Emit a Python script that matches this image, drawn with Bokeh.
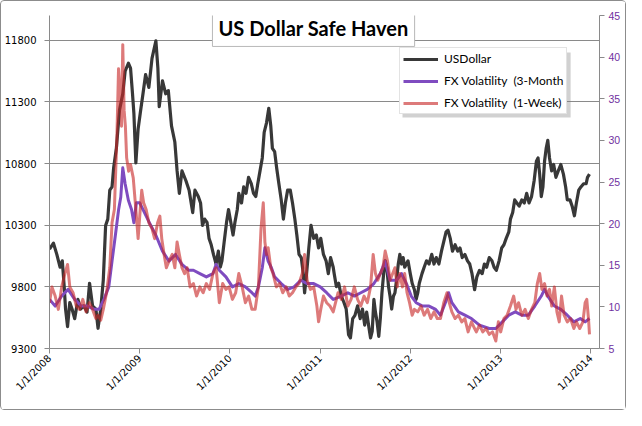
import math
from bokeh.plotting import figure
from bokeh.models import (Range1d, LinearAxis, FixedTicker, Legend, LegendItem,
                          Label, BoxAnnotation)
from bokeh.embed import file_html
from bokeh.resources import INLINE

# ---------------- data (years after 1/1/2008, values) ----------------
BASE_YEAR = 2008
x_ticks = [2008, 2009, 2010, 2011, 2012, 2013, 2014]
x_tick_labels = ["1/1/2008", "1/1/2009", "1/1/2010", "1/1/2011",
                 "1/1/2012", "1/1/2013", "1/1/2014"]
usd_ticks = [9300, 9800, 10300, 10800, 11300, 11800]
vol_ticks = [5, 10, 15, 20, 25, 30, 35, 40, 45]

usd_t = [0.000, 0.044, 0.081, 0.117, 0.142, 0.163, 0.178, 0.200, 0.225, 0.250,
         0.279, 0.315, 0.344, 0.379, 0.416, 0.444, 0.477, 0.514, 0.538, 0.568,
         0.596, 0.622, 0.646, 0.668, 0.693, 0.711, 0.741, 0.776, 0.812, 0.838,
         0.874, 0.898, 0.920, 0.935, 0.957, 0.982, 1.006, 1.036, 1.065, 1.101,
         1.136, 1.179, 1.201, 1.216, 1.252, 1.288, 1.317, 1.352, 1.389, 1.414,
         1.439, 1.468, 1.511, 1.547, 1.587, 1.612, 1.649, 1.674, 1.695, 1.720,
         1.746, 1.768, 1.792, 1.817, 1.846, 1.871, 1.893, 1.911, 1.936, 1.962,
         1.984, 2.009, 2.034, 2.055, 2.081, 2.098, 2.128, 2.152, 2.178, 2.206,
         2.236, 2.261, 2.286, 2.308, 2.333, 2.358, 2.379, 2.405, 2.430, 2.452,
         2.470, 2.495, 2.517, 2.542, 2.568, 2.592, 2.614, 2.639, 2.668, 2.693,
         2.719, 2.741, 2.765, 2.790, 2.812, 2.827, 2.849, 2.874, 2.898, 2.928,
         2.957, 2.982, 3.006, 3.036, 3.065, 3.090, 3.115, 3.144, 3.155, 3.179,
         3.205, 3.234, 3.263, 3.288, 3.314, 3.335, 3.360, 3.385, 3.414, 3.443,
         3.468, 3.493, 3.515, 3.541, 3.558, 3.576, 3.595, 3.612, 3.630, 3.649,
         3.666, 3.684, 3.703, 3.720, 3.738, 3.757, 3.774, 3.792, 3.811, 3.828,
         3.846, 3.865, 3.882, 3.901, 3.919, 3.936, 3.955, 3.973, 3.998, 4.019,
         4.044, 4.063, 4.081, 4.098, 4.128, 4.152, 4.178, 4.206, 4.236, 4.261,
         4.286, 4.315, 4.344, 4.369, 4.395, 4.416, 4.441, 4.466, 4.495, 4.524,
         4.549, 4.574, 4.603, 4.632, 4.657, 4.682, 4.711, 4.736, 4.765, 4.795,
         4.819, 4.844, 4.873, 4.903, 4.927, 4.952, 4.982, 5.011, 5.036, 5.061,
         5.090, 5.108, 5.133, 5.155, 5.179, 5.205, 5.234, 5.262, 5.288, 5.314,
         5.342, 5.371, 5.396, 5.414, 5.432, 5.450, 5.468, 5.486, 5.504, 5.522,
         5.541, 5.565, 5.587, 5.612, 5.638, 5.666, 5.695, 5.720, 5.738, 5.768,
         5.792, 5.817, 5.839, 5.865, 5.889, 5.919, 5.947, 5.962, 5.984]
usd_v = [10105, 10154, 10063, 9959, 10011, 9802, 9620, 9477, 9673, 9620,
         9542, 9698, 9620, 9646, 9595, 9829, 9646, 9620, 9464, 9620,
         9855, 10298, 10349, 10584, 10610, 10766, 10923, 11235, 11365, 11548,
         11613, 11573, 11365, 11209, 10805, 11079, 11209, 11365, 11521, 11417,
         11652, 11795, 11573, 11261, 11470, 11365, 11391, 11105, 10974, 10740,
         10558, 10740, 10662, 10584, 10402, 10584, 10532, 10480, 10298, 10349,
         10323, 10193, 10141, 10063, 9985, 10089, 9959, 10011, 10167, 10323,
         10427, 10323, 10220, 10323, 10427, 10558, 10480, 10610, 10558, 10688,
         10636, 10558, 10532, 10636, 10740, 10845, 11052, 11130, 11248, 11105,
         10923, 10896, 10766, 10636, 10505, 10349, 10480, 10584, 10584, 10480,
         10349, 10220, 10063, 10037, 9907, 9751, 9907, 10115, 10298, 10193,
         10220, 10115, 10193, 10063, 10011, 9907, 10037, 9959, 9907, 9802,
         9829, 9724, 9673, 9620, 9412, 9386, 9542, 9568, 9646, 9542,
         9620, 9490, 9595, 9464, 9386, 9438, 9698, 9595, 9516, 9399,
         9542, 9751, 9907, 10011, 9959, 9802, 9724, 9620, 9724, 9751,
         9855, 9985, 10063, 9985, 10037, 9959, 9985, 10011, 9907, 9829,
         9777, 9698, 9751, 9829, 9907, 9959, 10011, 9985, 10063, 9985,
         10037, 9985, 10089, 10167, 10245, 10259, 10193, 10089, 10141, 10089,
         10115, 10037, 10063, 10011, 9985, 9907, 9777, 9881, 9933, 9907,
         9985, 9959, 10037, 10011, 9959, 9933, 10011, 10115, 10141, 10193,
         10245, 10349, 10402, 10505, 10480, 10454, 10505, 10480, 10558, 10480,
         10532, 10662, 10818, 10845, 10714, 10532, 10610, 10818, 10923, 10988,
         10845, 10740, 10792, 10688, 10740, 10792, 10714, 10610, 10505, 10505,
         10454, 10376, 10480, 10584, 10610, 10636, 10636, 10688, 10714]

v3m_t = [0.000, 0.063, 0.135, 0.206, 0.279, 0.351, 0.423, 0.495, 0.549, 0.603,
         0.657, 0.693, 0.730, 0.766, 0.790, 0.812, 0.838, 0.874, 0.909, 0.935,
         0.963, 1.000, 1.108, 1.179, 1.252, 1.324, 1.396, 1.468, 1.541, 1.595,
         1.666, 1.738, 1.811, 1.846, 1.882, 1.955, 2.027, 2.098, 2.171, 2.243,
         2.279, 2.315, 2.358, 2.387, 2.423, 2.459, 2.495, 2.568, 2.639, 2.711,
         2.784, 2.855, 2.928, 3.000, 3.071, 3.144, 3.234, 3.306, 3.378, 3.450,
         3.522, 3.595, 3.666, 3.720, 3.774, 3.846, 3.901, 3.955, 4.009, 4.063,
         4.135, 4.206, 4.279, 4.333, 4.387, 4.423, 4.459, 4.531, 4.603, 4.676,
         4.765, 4.873, 4.946, 5.018, 5.090, 5.162, 5.234, 5.306, 5.378, 5.450,
         5.486, 5.522, 5.595, 5.666, 5.738, 5.811, 5.882, 5.936, 5.984]
v3m_v = [10.9, 10.1, 11.3, 12.1, 10.9, 10.1, 10.1, 9.7, 9.7, 10.9,
         12.4, 15.5, 18.6, 21.7, 23.2, 26.7, 24.8, 22.8, 21.7, 20.1,
         22.5, 22.5, 20.1, 18.6, 16.7, 15.5, 16.3, 15.1, 14.4, 14.4,
         14.0, 13.6, 14.0, 15.1, 14.4, 13.6, 12.4, 12.8, 12.4, 11.7,
         11.3, 12.4, 14.7, 17.1, 15.5, 14.7, 13.6, 12.8, 12.1, 12.4,
         13.2, 12.8, 12.8, 12.4, 11.7, 10.9, 11.3, 11.7, 11.3, 11.7,
         12.1, 12.8, 14.0, 15.5, 13.2, 13.2, 14.0, 12.8, 11.3, 10.5,
         10.1, 10.1, 9.7, 9.0, 10.5, 11.7, 10.5, 9.4, 9.0, 8.6,
         7.8, 7.4, 7.4, 8.2, 9.0, 9.4, 9.0, 9.0, 10.1, 11.3,
         12.1, 11.3, 10.1, 9.7, 9.0, 8.2, 8.6, 8.2, 8.6]

v1w_t = [0.000, 0.027, 0.063, 0.098, 0.135, 0.171, 0.200, 0.225, 0.261, 0.297,
         0.333, 0.369, 0.405, 0.441, 0.477, 0.514, 0.538, 0.568, 0.596, 0.632,
         0.668, 0.693, 0.719, 0.747, 0.765, 0.784, 0.798, 0.812, 0.827, 0.841,
         0.855, 0.877, 0.898, 0.928, 0.957, 0.982, 1.000, 1.022, 1.043, 1.071,
         1.101, 1.136, 1.165, 1.198, 1.223, 1.244, 1.270, 1.295, 1.324, 1.360,
         1.389, 1.414, 1.439, 1.468, 1.497, 1.525, 1.558, 1.595, 1.630, 1.666,
         1.703, 1.738, 1.774, 1.811, 1.846, 1.882, 1.919, 1.955, 1.990, 2.027,
         2.063, 2.098, 2.135, 2.171, 2.207, 2.243, 2.279, 2.315, 2.344, 2.369,
         2.387, 2.405, 2.423, 2.452, 2.477, 2.514, 2.549, 2.585, 2.622, 2.657,
         2.693, 2.730, 2.765, 2.801, 2.827, 2.855, 2.892, 2.928, 2.963, 2.982,
         3.006, 3.036, 3.071, 3.108, 3.144, 3.198, 3.234, 3.270, 3.306, 3.342,
         3.378, 3.414, 3.450, 3.486, 3.522, 3.558, 3.587, 3.612, 3.638, 3.666,
         3.695, 3.720, 3.746, 3.774, 3.803, 3.828, 3.854, 3.882, 3.911, 3.936,
         3.962, 3.990, 4.019, 4.044, 4.081, 4.117, 4.152, 4.189, 4.225, 4.261,
         4.297, 4.333, 4.369, 4.405, 4.430, 4.459, 4.495, 4.531, 4.568, 4.603,
         4.639, 4.676, 4.711, 4.730, 4.765, 4.801, 4.838, 4.873, 4.909, 4.946,
         4.974, 5.000, 5.036, 5.071, 5.108, 5.144, 5.169, 5.198, 5.234, 5.270,
         5.306, 5.342, 5.378, 5.406, 5.432, 5.457, 5.486, 5.514, 5.541, 5.565,
         5.595, 5.623, 5.649, 5.674, 5.703, 5.738, 5.774, 5.811, 5.839, 5.876,
         5.911, 5.936, 5.954, 5.973, 5.984]
v1w_v = [10.5, 12.4, 11.3, 9.7, 12.4, 14.0, 15.1, 12.4, 11.7, 10.1,
         9.7, 10.9, 9.4, 10.5, 9.7, 8.6, 9.0, 8.4, 9.7, 11.7,
         14.7, 20.1, 21.7, 30.5, 38.6, 35.6, 31.7, 41.5, 33.6, 31.7,
         27.9, 26.3, 27.1, 25.5, 21.7, 18.2, 20.9, 24.0, 22.5, 21.7,
         20.1, 19.4, 18.2, 20.1, 20.9, 18.2, 16.3, 14.7, 15.5, 16.3,
         14.7, 17.8, 16.3, 14.7, 14.0, 14.7, 12.4, 12.8, 11.3, 12.4,
         11.7, 12.8, 12.1, 14.0, 14.7, 10.5, 12.8, 12.1, 12.4, 10.9,
         11.7, 14.0, 12.4, 10.5, 11.3, 9.7, 9.7, 12.4, 19.4, 22.5,
         17.8, 16.3, 17.1, 14.7, 14.0, 12.4, 12.8, 11.7, 12.4, 11.3,
         11.7, 12.4, 12.8, 14.0, 16.3, 13.2, 12.1, 12.4, 10.1, 8.2,
         9.7, 11.3, 10.5, 10.1, 9.4, 11.7, 10.9, 12.4, 10.1, 10.9,
         12.4, 10.9, 10.1, 11.3, 10.5, 12.4, 16.3, 14.0, 13.2, 14.0,
         14.7, 16.7, 15.5, 13.2, 14.0, 14.7, 12.4, 14.0, 12.4, 14.0,
         11.7, 10.5, 9.0, 9.7, 9.4, 10.1, 9.0, 9.7, 8.6, 9.4,
         8.6, 8.6, 10.5, 11.7, 10.5, 9.4, 8.6, 9.0, 8.2, 8.6,
         7.0, 8.2, 7.4, 7.0, 7.8, 7.0, 7.4, 6.7, 7.0, 5.9,
         8.2, 7.0, 8.6, 9.0, 10.1, 11.3, 9.7, 10.5, 9.0, 9.7,
         8.6, 9.7, 10.5, 12.8, 14.0, 12.1, 12.8, 11.3, 12.1, 10.1,
         12.4, 9.4, 8.2, 11.3, 9.0, 8.2, 8.6, 7.4, 8.2, 7.4,
         8.2, 10.5, 10.9, 8.6, 6.7]

# ---------------- figure ----------------
GRID = "#8a8a8a"
p = figure(width=626, height=410, output_backend="svg", toolbar_location=None,
           x_range=Range1d(2008, 2014.095), y_range=Range1d(9300, 12000),
           min_border_left=48, min_border_right=28, min_border_top=14,
           min_border_bottom=63)
p.extra_y_ranges = {"vol": Range1d(5, 45)}
p.outline_line_color = None
p.background_fill_color = "white"
p.border_fill_color = "white"
p.xgrid.visible = False
p.ygrid.grid_line_color = GRID
p.ygrid.grid_line_width = 1

# left axis
ly = p.yaxis[0]
ly.ticker = FixedTicker(ticks=usd_ticks)
ly.axis_line_color = GRID
ly.major_tick_line_color = GRID
ly.major_tick_out = 5
ly.major_tick_in = 0
ly.minor_tick_line_color = None
ly.major_label_standoff = 8
ly.major_label_text_font = "DejaVu Sans"
ly.major_label_text_font_size = "10px"
ly.major_label_text_color = "#000000"

# bottom axis
bx = p.xaxis[0]
bx.ticker = FixedTicker(ticks=x_ticks)
bx.major_label_overrides = {t: lab for t, lab in zip(x_ticks, x_tick_labels)}
bx.axis_line_color = GRID
bx.major_tick_line_color = GRID
bx.major_tick_out = 5
bx.major_tick_in = 0
bx.minor_tick_line_color = None
bx.major_label_orientation = math.pi / 4
bx.major_label_standoff = 3
bx.major_label_text_font = "DejaVu Sans"
bx.major_label_text_font_size = "10px"
bx.major_label_text_color = "#000000"

# right axis
ry = LinearAxis(y_range_name="vol", ticker=FixedTicker(ticks=vol_ticks))
ry.axis_line_color = GRID
ry.major_tick_line_color = GRID
ry.major_tick_out = 5
ry.major_tick_in = 0
ry.minor_tick_line_color = None
ry.major_label_standoff = 4
ry.major_label_text_font = "Liberation Sans"
ry.major_label_text_font_size = "10.5px"
ry.major_label_text_color = "#7030A0"
p.add_layout(ry, "right")

# series
usd_x = [BASE_YEAR + t for t in usd_t]
v3m_x = [BASE_YEAR + t for t in v3m_t]
v1w_x = [BASE_YEAR + t for t in v1w_t]

r_usd = p.line(usd_x, usd_v, line_color="#383838", line_width=3.2,
               line_join="round")
r_3m = p.line(v3m_x, v3m_v, line_color="#7F4CC0", line_width=3,
              line_join="round", y_range_name="vol")
r_1w = p.line(v1w_x, v1w_v, line_color="#C82828", line_alpha=0.62,
              line_width=3, line_join="round", y_range_name="vol")

# title box with shadow
title_text = "US Dollar Safe Haven"
tx, ty = 2010.926, 11895
shadow = Label(x=tx, y=ty, text=title_text, text_font="Lato",
               text_font_size="20px", text_font_style="bold",
               text_align="center", text_baseline="middle", text_alpha=0.0,
               background_fill_color="#7a7a7a", background_fill_alpha=0.35,
               padding=6, x_offset=3, y_offset=-3)
p.add_layout(shadow)
title = Label(x=tx, y=ty, text=title_text, text_font="Lato",
              text_font_size="20px", text_font_style="bold",
              text_align="center", text_baseline="middle", text_color="#000000",
              background_fill_color="white", border_line_color="#b8b8b8",
              padding=6)
p.add_layout(title)

# legend shadow + legend
leg_shadow = BoxAnnotation(left=2011.912, right=2013.775, bottom=11173, top=11700,
                           fill_color="#7a7a7a", fill_alpha=0.35, line_color=None)
p.add_layout(leg_shadow)
legend = Legend(items=[LegendItem(label="USDollar", renderers=[r_usd]),
                       LegendItem(label="FX Volatility  (3-Month", renderers=[r_3m]),
                       LegendItem(label="FX Volatility  (1-Week)", renderers=[r_1w])],
                location=(350, 234), orientation="vertical",
                label_text_font="Lato", label_text_font_size="12px",
                label_text_color="#000000", glyph_width=35, glyph_height=14,
                label_height=14, spacing=7, padding=3, label_standoff=6,
                border_line_color="#c8c8c8", background_fill_color="white",
                background_fill_alpha=1.0, margin=0)
p.add_layout(legend)

p.styles = {"border": "1px solid #8c8c8c", "border-radius": "4px"}

open("out.html", "w").write(file_html(p, INLINE))
